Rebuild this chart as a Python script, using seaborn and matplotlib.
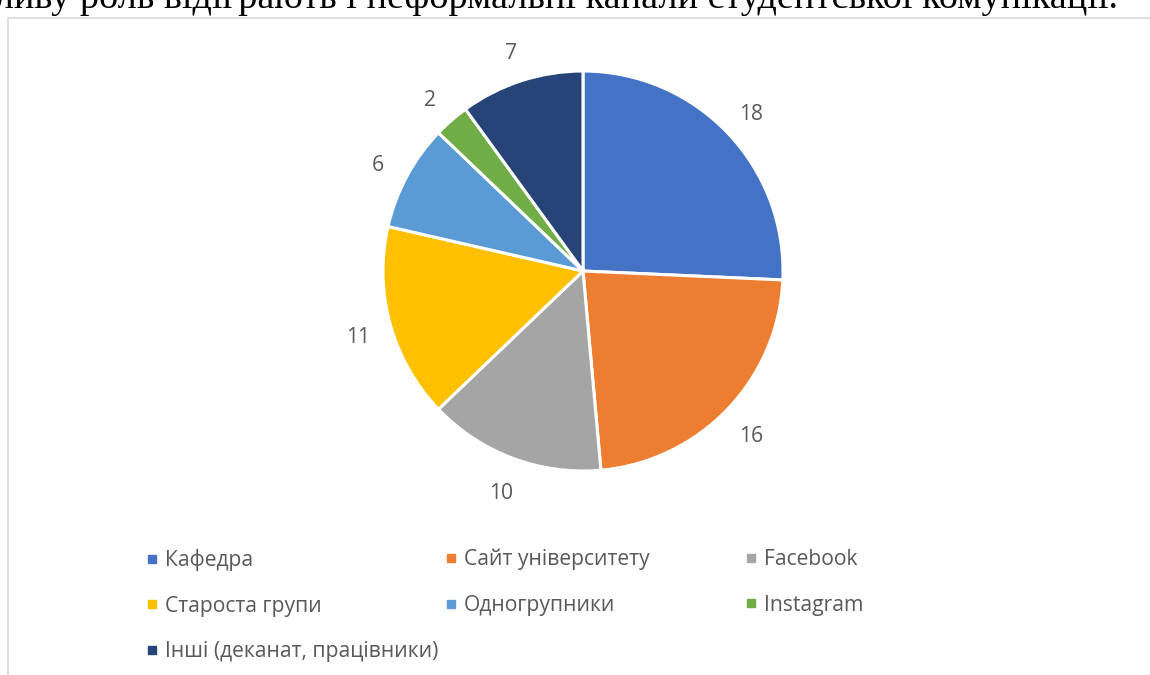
"""
Pie chart: informal channels of student communication
"""

import matplotlib.pyplot as plt
import matplotlib.transforms as mtransforms
import seaborn as sns
from matplotlib.lines import Line2D
from matplotlib.patches import Rectangle

# ----------------------------
# Data
# ----------------------------
categories = [
    "Кафедра",
    "Сайт університету",
    "Facebook",
    "Староста групи",
    "Одногрупники",
    "Instagram",
    "Інші (деканат, працівники)",
]
values = [18, 16, 10, 11, 6, 2, 7]
colors = ["#4472C4", "#ED7D31", "#A5A5A5", "#FFC000", "#5B9BD5", "#70AD47", "#264478"]
header_text = "важливу роль відіграють і неформальні канали студентської комунікації."

sns.set_theme(style="white")
plt.rcParams["font.family"] = ["Open Sans", "DejaVu Sans"]
palette = sns.color_palette(colors)
text_color = "#595959"
font_size = 15.2

W, H = 1150, 675
fig = plt.figure(figsize=(W / 100, H / 100), dpi=100)

# chart frame (light border of the embedded chart)
fig.patches.append(
    Rectangle((8 / W, -0.01), 1.1, (H - 18) / H + 0.01, transform=fig.transFigure,
              fill=False, edgecolor="#D9D9D9", linewidth=1.2)
)

# cut-off line of document text above the chart
fig.text(1118 / W, (H - 8.5) / H, header_text, ha="right", va="baseline",
         fontsize=27.5, color="black", family=["Liberation Serif", "DejaVu Serif"])

# ----------------------------
# Pie
# ----------------------------
cx, cy, r = 583, H - 271, 200
half = 1.4 * r
ax = fig.add_axes([(cx - half) / W, (cy - half) / H, 2 * half / W, 2 * half / H])
wedges, texts = ax.pie(
    values,
    labels=[str(v) for v in values],
    colors=palette,
    startangle=90,
    counterclock=False,
    labeldistance=1.165,
    wedgeprops=dict(edgecolor="white", linewidth=2.2),
    textprops=dict(color=text_color, fontsize=font_size),
)
shift = mtransforms.ScaledTranslation(0, -4.5 / 100, fig.dpi_scale_trans)
for t in texts:
    t.set_ha("center")
    t.set_va("center")
    t.set_transform(t.get_transform() + shift)
ax.set_xlim(-1.4, 1.4)
ax.set_ylim(-1.4, 1.4)
ax.set_aspect("equal")
ax.axis("off")

# ----------------------------
# Legend: three columns, row-major like the original
# ----------------------------
col_x = [145.5, 444.5, 744.5]
row_top = 557
for c in range(3):
    idx = list(range(c, len(categories), 3))
    handles = [Line2D([], [], marker="s", linestyle="none", markersize=6,
                      color=palette[i]) for i in idx]
    labels = [categories[i] for i in idx]
    fig.legend(
        handles, labels,
        loc="upper left",
        bbox_to_anchor=(col_x[c] / W, (H - row_top + 8) / H),
        frameon=False,
        fontsize=font_size,
        labelcolor=text_color,
        handlelength=0.6,
        handletextpad=0.3,
        labelspacing=1.17,
        borderpad=0,
        borderaxespad=0,
    )

fig.savefig("out.png", dpi=100)
